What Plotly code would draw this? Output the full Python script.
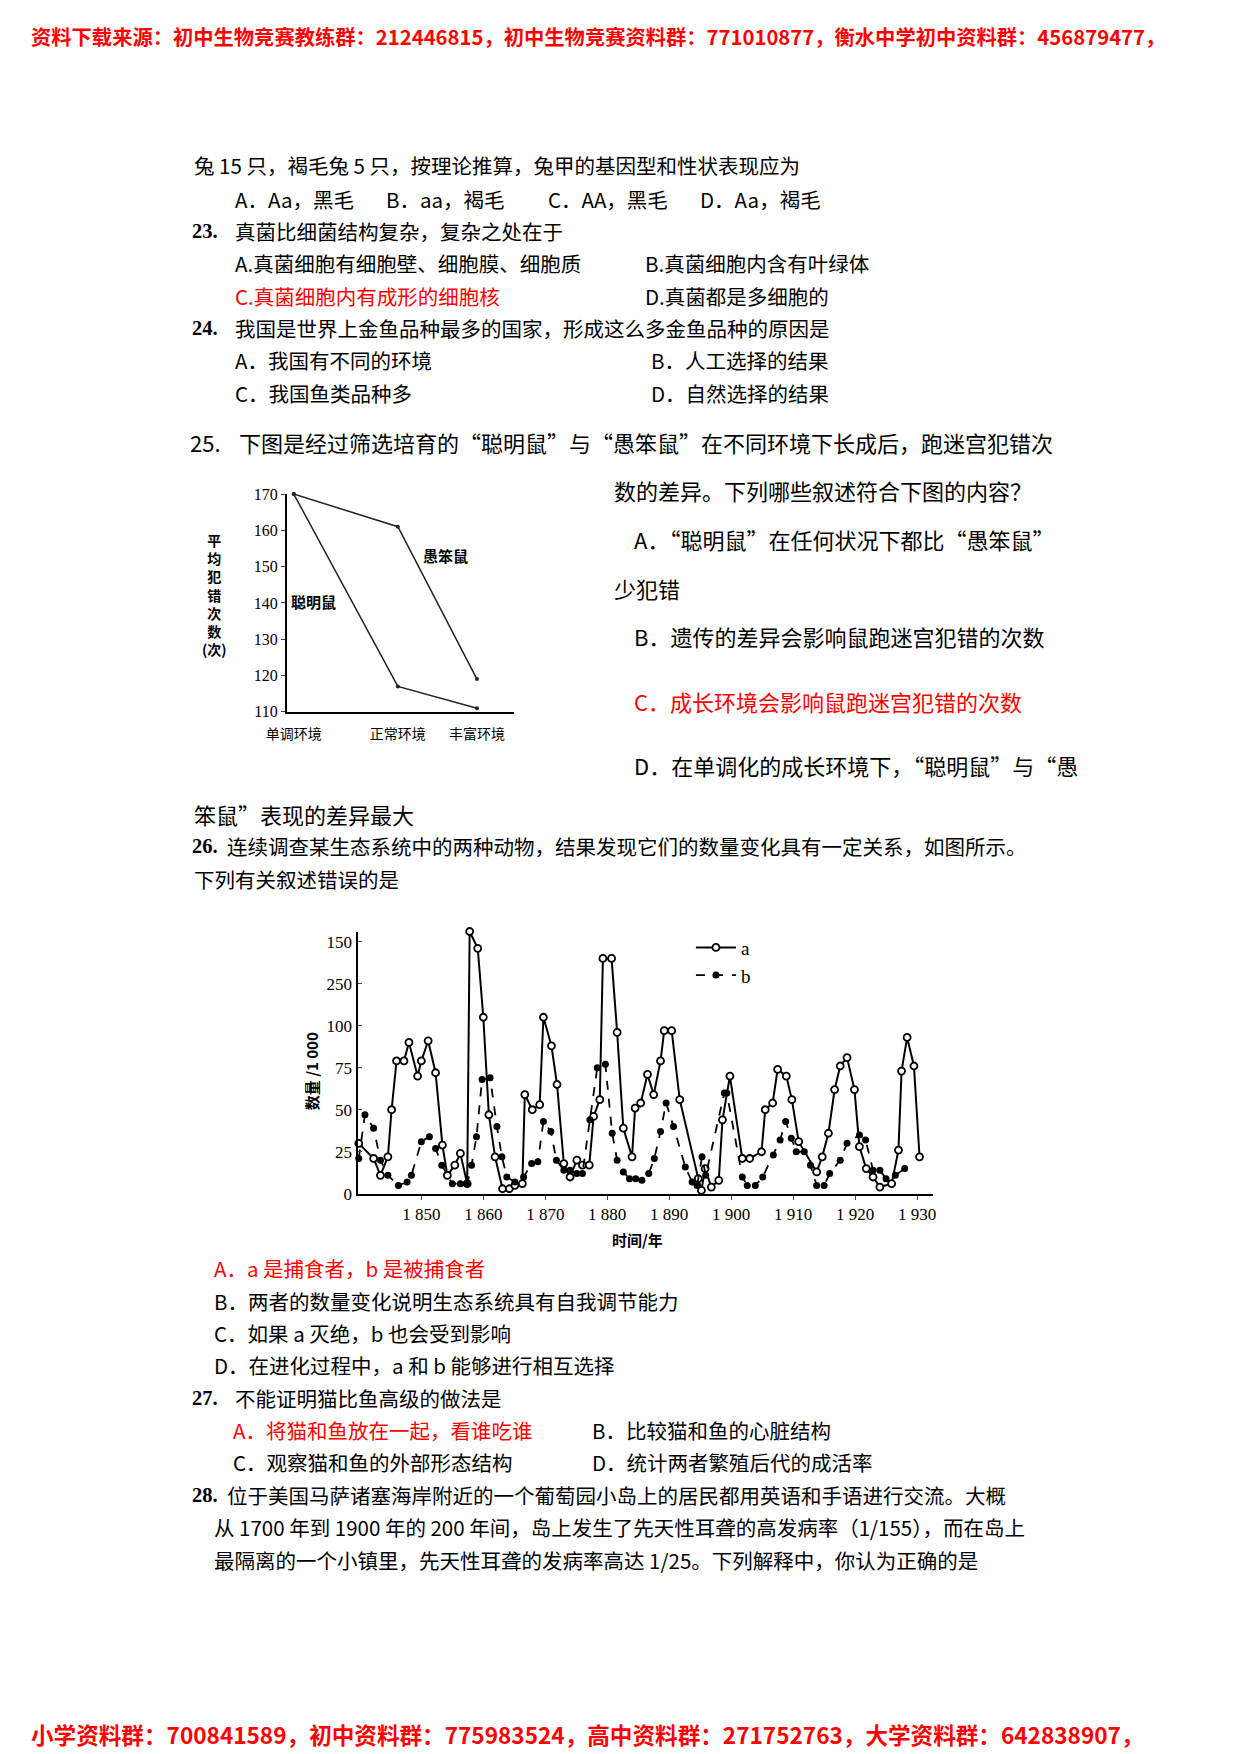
import plotly.graph_objects as go

W, H = 1240, 1754
CJK = "Noto Sans CJK SC"
SERIF = "Liberation Serif"
RED = "#FF0000"
DX, DY = -25, -16  # page offset correction

# ---- chart 1: maze errors ----
env_labels = ["单调环境", "正常环境", "丰富环境"]
env_pos = [0, 1, 1.76]
smart_errors = [170, 117, 111]
dull_errors = [170, 161, 119]

# ---- chart 2: population a / b (x 1000) ----
a_years = [1839.9, 1842.3, 1843.4, 1844.6, 1845.2, 1846, 1847.2, 1848, 1849.4, 1850,
           1851.1, 1852.3, 1853.4, 1854.2, 1855.4, 1856.3, 1857.4, 1857.8, 1859.1, 1860,
           1860.9, 1861.9, 1863.1, 1864.2, 1865.1, 1866.3, 1866.7, 1867.9, 1869.1, 1869.7,
           1871, 1871.9, 1873, 1874, 1875.1, 1876, 1877.1, 1877.8, 1878.8, 1879.3,
           1880.7, 1881.6, 1882.6, 1884, 1884.5, 1885.4, 1886.5, 1887.5, 1888.6, 1889.2,
           1890.4, 1891.7, 1894.7, 1895.2, 1895.8, 1896.8, 1898, 1898.6, 1899.8, 1901.8,
           1903, 1904.9, 1905.5, 1906.7, 1907.5, 1908.9, 1909.8, 1910.9, 1913.8, 1914.7,
           1915.7, 1916.7, 1917.6, 1918.7, 1919.9, 1920.7, 1921.8, 1922.9, 1924, 1925.9,
           1927, 1927.5, 1928.4, 1929.5, 1930.4]
a_values = [30, 21, 11, 22, 50, 79, 79, 90, 70, 79,
            91, 72, 29, 11, 17, 24, 6, 156, 146, 105,
            47, 22, 3, 3, 5, 6, 59, 50, 53, 105,
            88, 65, 18, 10, 20, 17, 17, 46, 56, 140,
            140, 96, 39, 22, 51, 54, 71, 59, 79, 97,
            97, 56, 9, 2, 15, 4, 8, 44, 70, 21,
            21, 25, 50, 54, 74, 70, 56, 31, 13, 22,
            36, 62, 76, 81, 62, 28, 15, 10, 4, 6,
            26, 73, 93, 76, 22]
b_years = [1839.9, 1840.9, 1842.3, 1843.4, 1844.6, 1846.3, 1847.7, 1848.4, 1850, 1851.3,
           1852.3, 1853.3, 1855, 1856.3, 1857.4, 1858.1, 1858.9, 1859.8, 1861.1, 1862.2,
           1863, 1863.8, 1865.1, 1866.5, 1867.8, 1868.8, 1869.7, 1870.9, 1871.8, 1873,
           1874, 1875.1, 1876, 1877.2, 1878.4, 1879.7, 1880.8, 1881.6, 1882.6, 1883.6,
           1884.6, 1885.6, 1886.7, 1887.6, 1888.6, 1889.5, 1890.7, 1892.6, 1893.7, 1894.5,
           1895.3, 1895.9, 1898.9, 1899.3, 1901.8, 1902.6, 1903.9, 1905.1, 1906.8, 1907.9,
           1908.8, 1909.7, 1910.5, 1911.8, 1912.8, 1913.8, 1915, 1915.9, 1917.6, 1918.7,
           1920.7, 1921.7, 1922.9, 1924, 1925, 1926.5, 1928]
b_values = [21, 47, 39, 20, 11, 5, 7, 11, 31, 34,
            27, 17, 6, 6, 6, 17, 34, 68, 69, 40,
            22, 10, 7, 10, 18, 19, 43, 37, 20, 14,
            14, 12, 12, 44, 75, 77, 36, 20, 13, 9,
            9, 8, 12, 21, 37, 54, 40, 16, 7, 5,
            22, 11, 60, 60, 10, 5, 5, 10, 23, 32,
            43, 33, 25, 25, 17, 5, 5, 12, 20, 30,
            35, 32, 14, 14, 9, 11, 15]
pop_tickvals = [0, 25, 50, 75, 100, 125, 150]
pop_ticktext = ["0", "25", "50", "75", "100", "250", "150"]
year_ticks = [1850, 1860, 1870, 1880, 1890, 1900, 1910, 1920, 1930]


def py(y):
    return 1 - (y + DY) / H


def px(x):
    return (x + DX) / W


fig = go.Figure()

fig.add_trace(go.Scatter(x=env_pos, y=smart_errors, mode="lines+markers",
                         line=dict(color="#222", width=1.5), marker=dict(size=4, color="#222"),
                         xaxis="x", yaxis="y", showlegend=False, cliponaxis=False))
fig.add_trace(go.Scatter(x=env_pos, y=dull_errors, mode="lines+markers",
                         line=dict(color="#222", width=1.5), marker=dict(size=4, color="#222"),
                         xaxis="x", yaxis="y", showlegend=False, cliponaxis=False))

fig.add_trace(go.Scatter(x=a_years, y=a_values, name="a", mode="lines+markers",
                         line=dict(color="black", width=2),
                         marker=dict(size=7, color="white", line=dict(color="black", width=1.8)),
                         xaxis="x2", yaxis="y2", cliponaxis=False))
fig.add_trace(go.Scatter(x=b_years, y=b_values, name="b", mode="lines+markers",
                         line=dict(color="black", width=1.8, dash="dash"),
                         marker=dict(size=7, color="black"),
                         xaxis="x2", yaxis="y2", cliponaxis=False))

annotations = []


def txt(x, y, s, color="black", size=20.5, bold=False, font=CJK, anchor="left"):
    if bold:
        s = "<b>" + s + "</b>"
    annotations.append(dict(x=max(px(x), 0), y=py(y), xref="paper", yref="paper", text=s,
                            showarrow=False, xanchor=anchor, yanchor="middle",
                            font=dict(family=font, size=size, color=color)))


header = "资料下载来源：初中生物竞赛教练群：212446815，初中生物竞赛资料群：771010877，衡水中学初中资料群：456879477，"
footer = "小学资料群：700841589，初中资料群：775983524，高中资料群：271752763，大学资料群：642838907，"
txt(0, 36, header, RED, 20.3, True)
txt(0, 1752, footer, RED, 22.6, True)

txt(191, 167, "兔 15 只，褐毛兔 5 只，按理论推算，兔甲的基因型和性状表现应为")
txt(233, 201, "A．Aa，黑毛")
txt(387, 201, "B．aa，褐毛")
txt(552, 201, "C．AA，黑毛")
txt(707, 201, "D．Aa，褐毛")
txt(189, 233, "23.", bold=True, font=SERIF)
txt(233, 233, "真菌比细菌结构复杂，复杂之处在于")
txt(233, 266, "A.真菌细胞有细胞壁、细胞膜、细胞质")
txt(651, 266, "B.真菌细胞内含有叶绿体")
txt(233, 299, "C.真菌细胞内有成形的细胞核", RED)
txt(651, 299, "D.真菌都是多细胞的")
txt(189, 331, "24.", bold=True, font=SERIF)
txt(233, 331, "我国是世界上金鱼品种最多的国家，形成这么多金鱼品种的原因是")
txt(233, 364, "A．我国有不同的环境")
txt(657, 364, "B．人工选择的结果")
txt(233, 397, "C．我国鱼类品种多")
txt(657, 397, "D．自然选择的结果")
txt(187, 446, "25.", size=22)
txt(237, 446, "下图是经过筛选培育的“聪明鼠”与“愚笨鼠”在不同环境下长成后，跑迷宫犯错次", size=22)
txt(620, 495, "数的差异。下列哪些叙述符合下图的内容？", size=22)
txt(640, 544, "A．“聪明鼠”在任何状况下都比“愚笨鼠”", size=22)
txt(620, 594, "少犯错", size=22)
txt(640, 642, "B．遗传的差异会影响鼠跑迷宫犯错的次数", size=22)
txt(640, 708, "C．成长环境会影响鼠跑迷宫犯错的次数", RED, size=22)
txt(640, 773, "D．在单调化的成长环境下，“聪明鼠”与“愚", size=22)
txt(191, 822, "笨鼠”表现的差异最大", size=22)
txt(189, 855, "26.", bold=True, font=SERIF)
txt(225, 855, "连续调查某生态系统中的两种动物，结果发现它们的数量变化具有一定关系，如图所示。")
txt(191, 888, "下列有关叙述错误的是")
txt(212, 1281, "A．a 是捕食者，b 是被捕食者", RED)
txt(212, 1314, "B．两者的数量变化说明生态系统具有自我调节能力")
txt(212, 1347, "C．如果 a 灭绝，b 也会受到影响")
txt(212, 1379, "D．在进化过程中，a 和 b 能够进行相互选择")
txt(189, 1412, "27.", bold=True, font=SERIF)
txt(233, 1412, "不能证明猫比鱼高级的做法是")
txt(231, 1445, "A．将猫和鱼放在一起，看谁吃谁", RED)
txt(597, 1445, "B．比较猫和鱼的心脏结构")
txt(231, 1477, "C．观察猫和鱼的外部形态结构")
txt(597, 1477, "D．统计两者繁殖后代的成活率")
txt(189, 1510, "28.", bold=True, font=SERIF)
txt(225, 1510, "位于美国马萨诸塞海岸附近的一个葡萄园小岛上的居民都用英语和手语进行交流。大概")
txt(212, 1543, "从 1700 年到 1900 年的 200 年间，岛上发生了先天性耳聋的高发病率（1/155），而在岛上")
txt(212, 1576, "最隔离的一个小镇里，先天性耳聋的发病率高达 1/25。下列解释中，你认为正确的是")

# chart 1 labels
txt(214, 601, "平<br>均<br>犯<br>错<br>次<br>数<br>(次)", size=14, bold=True, anchor="center")
txt(290, 608, "聪明鼠", size=15, bold=True)
txt(425, 561, "愚笨鼠", size=15, bold=True)
# chart 2 titles
annotations.append(dict(x=px(300), y=py(1082), xref="paper", yref="paper", text="<b>数量 /1 000</b>",
                        showarrow=False, textangle=-90, font=dict(family=CJK, size=15)))
txt(646, 1252, "时间/年", size=15, bold=True, anchor="center")

fig.update_layout(
    width=W, height=H, margin=dict(l=0, r=0, t=0, b=0),
    paper_bgcolor="white", plot_bgcolor="white",
    annotations=annotations,
    font=dict(family=SERIF, color="black"),
    xaxis=dict(domain=[px(288), px(520)], range=[-0.066, 2.12], tickvals=env_pos, ticktext=env_labels,
               showline=True, linecolor="black", linewidth=2, ticks="", showgrid=False, zeroline=False,
               ticklabelstandoff=8, tickfont=dict(family=CJK, size=14), anchor="y"),
    yaxis=dict(domain=[py(719), py(499)], range=[110, 170], dtick=10,
               showline=True, linecolor="black", linewidth=2, ticks="outside", ticklen=4,
               showgrid=False, zeroline=False, tickfont=dict(family=SERIF, size=16), anchor="x"),
    xaxis2=dict(domain=[px(360), px(947)], range=[1839.7, 1932.6], tickvals=year_ticks,
                ticktext=[f"1 {str(t)[1:]}" for t in year_ticks],
                showline=True, linecolor="black", linewidth=2, ticks="outside", ticklen=4,
                showgrid=False, zeroline=False, tickfont=dict(family=SERIF, size=17), anchor="y2"),
    yaxis2=dict(domain=[py(1206), py(941)], range=[0, 156], tickvals=pop_tickvals, ticktext=pop_ticktext,
                showline=True, linecolor="black", linewidth=2, ticks="inside", ticklen=4,
                showgrid=False, zeroline=False, tickfont=dict(family=SERIF, size=17), anchor="x2"),
    legend=dict(x=px(700), y=py(938), xanchor="left", yanchor="top", bgcolor="rgba(0,0,0,0)",
                font=dict(family=SERIF, size=19), itemwidth=40, tracegroupgap=0),
)

fig.write_html("out.html")
